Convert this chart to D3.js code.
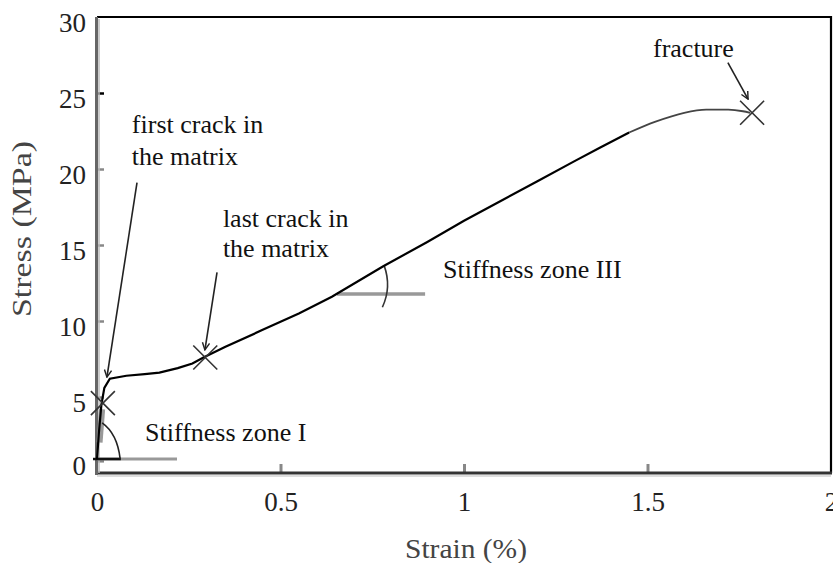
<!DOCTYPE html>
<html>
<head>
<meta charset="utf-8">
<script src="https://cdn.jsdelivr.net/npm/d3@7"></script>
<style>
  body { margin: 0; background: #fff; }
  text { font-family: "Liberation Serif", "Times New Roman", serif; }
</style>
</head>
<body>
<div class="canvas"></div>
<script>
// stress-strain curve
const strain = [0, 0.005, 0.012, 0.02, 0.035, 0.08, 0.13, 0.17, 0.22, 0.26, 0.29, 0.35, 0.45, 0.55,
  0.64, 0.78, 0.9, 1.0, 1.1, 1.2, 1.3, 1.37, 1.45, 1.52, 1.6, 1.66, 1.72, 1.76, 1.78];
const stress = [0.9, 2.6, 4.5, 5.6, 6.2, 6.4, 6.5, 6.6, 6.9, 7.2, 7.6, 8.3, 9.4, 10.5,
  11.6, 13.6, 15.2, 16.6, 17.9, 19.2, 20.5, 21.4, 22.4, 23.1, 23.7, 23.9, 23.9, 23.8, 23.7];

// cross markers: first crack, last crack, fracture
const crackStrain = [0.016, 0.295, 1.785];
const crackStress = [4.6, 7.6, 23.7];

const xTicks = [0, 0.5, 1, 1.5, 2];
const xTickLabels = ["0", "0.5", "1", "1.5", "2"];
const yTicks = [0.8, 5, 10, 15, 20, 25, 30];
const yTickLabels = ["0", "5", "10", "15", "20", "25", "30"];

const dims = { w: 833, h: 563 };
const plot = { left: 97, right: 831, top: 17, bottom: 473 };

const svg = d3
  .select(".canvas")
  .append("svg")
  .attr("width", dims.w)
  .attr("height", dims.h);

const x = d3.scaleLinear().domain([0, 2]).range([plot.left, plot.right]);
const y = d3.scaleLinear().domain([0, 30]).range([plot.bottom, plot.top]);

// frame: black top and right
svg.append("path")
  .attr("d", `M${x(0)},${y(30)}H${x(2)}V${y(0)}`)
  .attr("fill", "none")
  .attr("stroke", "#000")
  .attr("stroke-width", 2.2);

// x axis
const xAxis = d3.axisBottom(x)
  .tickValues(xTicks)
  .tickFormat((d, i) => xTickLabels[i])
  .tickSizeInner(-9)
  .tickSizeOuter(0)
  .tickPadding(24);

const gx = svg.append("g")
  .attr("transform", `translate(0, ${y(0)})`)
  .call(xAxis);
gx.select(".domain").remove();
gx.selectAll(".tick line").attr("stroke", "#888").attr("stroke-width", 3)
  .filter(d => d === 0 || d === 2).remove();
gx.selectAll(".tick text")
  .attr("font-size", 27)
  .attr("fill", "#222")
  .attr("font-family", "Liberation Serif")
  .attr("dy", "0.5em");

svg.append("line")
  .attr("x1", x(0) - 2).attr("x2", x(2) + 1)
  .attr("y1", y(0)).attr("y2", y(0))
  .attr("stroke", "#333").attr("stroke-width", 3);
svg.append("line")
  .attr("x1", x(0)).attr("x2", x(2))
  .attr("y1", y(0) + 3).attr("y2", y(0) + 3)
  .attr("stroke", "#ddd").attr("stroke-width", 2);

// y axis
const yAxis = d3.axisLeft(y)
  .tickValues(yTicks)
  .tickFormat((d, i) => yTickLabels[i])
  .tickSizeInner(-7)
  .tickSizeOuter(0)
  .tickPadding(11);

const gy = svg.append("g")
  .attr("transform", `translate(${x(0)}, 0)`)
  .call(yAxis);
gy.select(".domain").remove();
gy.selectAll(".tick line")
  .attr("stroke", d => (d === 25 ? "#000" : "#888"))
  .attr("stroke-width", 2.5)
  .filter(d => d === 30).remove();
gy.selectAll(".tick text")
  .attr("font-size", 27)
  .attr("fill", "#222")
  .attr("font-family", "Liberation Serif")
  .attr("dy", "0.52em");

svg.append("line")
  .attr("x1", x(0) - 0.5).attr("x2", x(0) - 0.5)
  .attr("y1", y(30)).attr("y2", y(0) + 2)
  .attr("stroke", "#666").attr("stroke-width", 3);
svg.append("line")
  .attr("x1", x(0) + 2).attr("x2", x(0) + 2)
  .attr("y1", y(30) + 2).attr("y2", y(0))
  .attr("stroke", "#bbb").attr("stroke-width", 1.5);

// axis titles
svg.append("text")
  .attr("x", 466).attr("y", 558)
  .attr("text-anchor", "middle")
  .attr("font-size", 27)
  .attr("fill", "#444")
  .attr("textLength", 122)
  .attr("lengthAdjust", "spacingAndGlyphs")
  .text("Strain (%)");

svg.append("text")
  .attr("transform", `translate(31, 229) rotate(-90)`)
  .attr("text-anchor", "middle")
  .attr("font-size", 27)
  .attr("fill", "#444")
  .attr("textLength", 176)
  .attr("lengthAdjust", "spacingAndGlyphs")
  .text("Stress (MPa)");

// stiffness zone I marker
svg.append("line")
  .attr("x1", x(0)).attr("x2", x(0.218))
  .attr("y1", y(0.92)).attr("y2", y(0.92))
  .attr("stroke", "#999").attr("stroke-width", 3);
svg.append("line")
  .attr("x1", x(0) - 4).attr("x2", x(0.065))
  .attr("y1", y(0.92)).attr("y2", y(0.92))
  .attr("stroke", "#111").attr("stroke-width", 2.5);
svg.append("line")
  .attr("x1", x(0.007)).attr("x2", x(0.014))
  .attr("y1", y(2.0)).attr("y2", y(4.2))
  .attr("stroke", "#999").attr("stroke-width", 6);
svg.append("path")
  .attr("d", `M${x(0.014)},${y(3.3)}Q${x(0.055)},${y(2.6)} ${x(0.063)},${y(0.95)}`)
  .attr("fill", "none")
  .attr("stroke", "#222").attr("stroke-width", 1.6);

// stiffness zone III marker
const v3 = { x: x(0.654), y: y(11.78) };
svg.append("line")
  .attr("x1", v3.x).attr("x2", x(0.894))
  .attr("y1", v3.y).attr("y2", v3.y)
  .attr("stroke", "#999").attr("stroke-width", 3.5);
const r3 = 55;
const a0 = -31 * Math.PI / 180, a1 = 14 * Math.PI / 180;
svg.append("path")
  .attr("d", `M${v3.x + r3 * Math.cos(a0)},${v3.y + r3 * Math.sin(a0)}` +
    `A${r3},${r3} 0 0 1 ${v3.x + r3 * Math.cos(a1) - 8},${v3.y + r3 * Math.sin(a1)}`)
  .attr("fill", "none")
  .attr("stroke", "#333").attr("stroke-width", 1.6);

// curve
const pts = strain.map((s, i) => [s, stress[i]]);
const line = d3.line().x(d => x(d[0])).y(d => y(d[1]));
const smooth = d3.line().curve(d3.curveMonotoneX).x(d => x(d[0])).y(d => y(d[1]));
svg.append("path")
  .attr("d", line(pts.filter(d => d[0] <= 1.45)))
  .attr("fill", "none")
  .attr("stroke", "#000")
  .attr("stroke-width", 2.2);
svg.append("path")
  .attr("d", smooth(pts.filter(d => d[0] >= 1.45)))
  .attr("fill", "none")
  .attr("stroke", "#444")
  .attr("stroke-width", 1.8);

// crack markers
const half = 12;
svg.selectAll(".cross")
  .data(crackStrain.map((s, i) => [s, crackStress[i]]))
  .enter()
  .append("path")
  .attr("class", "cross")
  .attr("d", d => {
    const cx = x(d[0]), cy = y(d[1]);
    return `M${cx - half},${cy - half}L${cx + half},${cy + half}M${cx - half},${cy + half}L${cx + half},${cy - half}`;
  })
  .attr("fill", "none")
  .attr("stroke", "#333")
  .attr("stroke-width", 1.6);

// arrows
svg.append("defs").append("marker")
  .attr("id", "head")
  .attr("viewBox", "0 0 10 10")
  .attr("refX", 9).attr("refY", 5)
  .attr("markerWidth", 9).attr("markerHeight", 9)
  .attr("markerUnits", "userSpaceOnUse")
  .attr("orient", "auto")
  .append("path")
  .attr("d", "M1,1L9,5L1,9")
  .attr("fill", "none")
  .attr("stroke", "#222")
  .attr("stroke-width", 1.6);

const arrows = [
  [0.109, 19.1, 0.027, 6.3],
  [0.327, 13.2, 0.294, 8.1],
  [1.719, 27.0, 1.774, 24.6]
];
svg.selectAll(".arrow")
  .data(arrows)
  .enter()
  .append("line")
  .attr("class", "arrow")
  .attr("x1", d => x(d[0])).attr("y1", d => y(d[1]))
  .attr("x2", d => x(d[2])).attr("y2", d => y(d[3]))
  .attr("stroke", "#222")
  .attr("stroke-width", 1.6)
  .attr("marker-end", "url(#head)");

// annotation labels
const notes = [
  ["first crack in", 0.095, 22.37],
  ["the matrix", 0.095, 20.26],
  ["last crack in", 0.343, 16.18],
  ["the matrix", 0.343, 14.21],
  ["Stiffness zone III", 0.943, 12.83],
  ["Stiffness zone I", 0.131, 2.1],
  ["fracture", 1.515, 27.37]
];
svg.selectAll(".note")
  .data(notes)
  .enter()
  .append("text")
  .attr("class", "note")
  .attr("x", d => x(d[1]))
  .attr("y", d => y(d[2]))
  .attr("font-size", 26)
  .attr("fill", "#111")
  .text(d => d[0]);
</script>
</body>
</html>
